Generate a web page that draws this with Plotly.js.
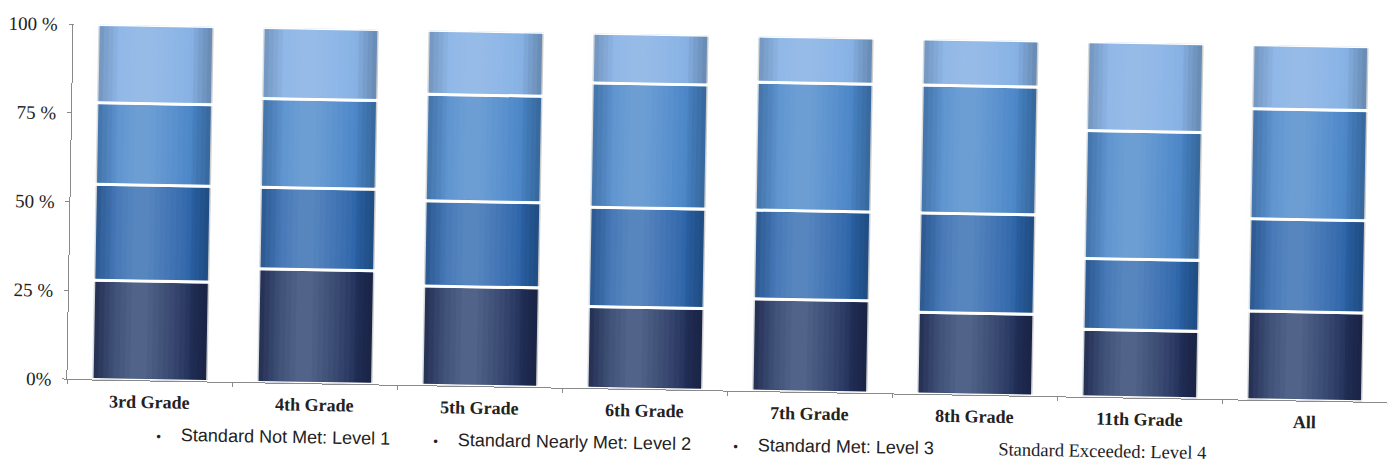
<!DOCTYPE html>
<html>
<head>
<meta charset="utf-8">
<script src="https://cdn.plot.ly/plotly-3.0.1.min.js"></script>
<style>
  html, body { margin: 0; padding: 0; background: #fff; overflow: hidden; }
  #chart { width: 1390px; height: 465px; transform: rotate(1deg); transform-origin: 50% 50%; }
</style>
</head>
<body>
<div id="chart"></div>
<script>
const categories = ["3rd Grade", "4th Grade", "5th Grade", "6th Grade", "7th Grade", "8th Grade", "11th Grade", "All"];
const level1 = [28, 32, 28, 23, 26, 23, 19, 25];
const level2 = [27, 23, 24, 28, 25, 28, 20, 26];
const level3 = [23, 25, 30, 35, 36, 36, 36, 31];
const level4 = [22, 20, 18, 14, 13, 13, 25, 18];
const seriesNames = ["Standard Not Met: Level 1", "Standard Nearly Met: Level 2", "Standard Met: Level 3", "Standard Exceeded: Level 4"];
const yTickVals = [0, 25, 50, 75, 100];
const yTickText = ["0%", "25 %", "50 %", "75 %", "100 %"];

const series = [level1, level2, level3, level4];
const colors = ["#22305a", "#2a62a7", "#4884c6", "#85afe2"];

// cumulative bases for stacking
const bases = [];
let running = categories.map(() => 0);
series.forEach(s => {
  bases.push(running.slice());
  running = running.map((v, i) => v + s[i]);
});

const BAR_W = 0.7;
const traces = [];
series.forEach((s, k) => {
  traces.push({
    type: "bar", x: categories, y: s, base: bases[k], name: seriesNames[k],
    width: BAR_W, offset: -BAR_W / 2,
    marker: { color: colors[k], line: { color: "#ffffff", width: 3 } },
    hoverinfo: "skip", showlegend: false
  });
});

// smooth shading (nested translucent stripes) to imitate the cylinder-like gradient
const stripes = [];
for (let i = 0; i < 9; i++) {
  const w = 0.62 - i * 0.065;
  stripes.push({ c: -0.07, w: w, col: "rgba(215,225,255,0.04)" });
}
for (let i = 0; i < 4; i++) {
  const w = 0.12 - i * 0.028;
  stripes.push({ c: BAR_W / 2 - w / 2, w: w, col: "rgba(0,0,0,0.05)" });
  stripes.push({ c: -BAR_W / 2 + w / 2, w: w, col: "rgba(0,0,0,0.035)" });
}
stripes.forEach(st => {
  series.forEach((s, k) => {
    traces.push({
      type: "bar", x: categories, y: s.map(v => v - 0.9), base: bases[k].map(b => b + 0.45),
      width: st.w, offset: st.c - st.w / 2,
      marker: { color: st.col, line: { width: 0 } },
      hoverinfo: "skip", showlegend: false
    });
  });
});

const plotL = 70, plotR = 0, plotW = 1390 - plotL - plotR;
const px = p => (p - plotL) / plotW;
const legendX = [158, 435, 735, 1000];
const annotations = seriesNames.map((n, k) => {
  const isLast = k === seriesNames.length - 1;
  return {
    xref: "paper", yref: "paper", x: px(legendX[k]), y: -0.152,
    xanchor: "left", yanchor: "middle", showarrow: false,
    text: isLast ? n : '<span style="font-size:13px">•</span>    ' + n,
    font: isLast ? { family: "Liberation Serif, Times New Roman, serif", size: 18.5, color: "#222" }
                 : { family: "Liberation Sans, Arial, sans-serif", size: 18, color: "#222" }
  };
});

const layout = {
  width: 1390, height: 465,
  margin: { l: plotL, r: plotR, t: 35, b: 75 },
  paper_bgcolor: "#ffffff", plot_bgcolor: "#ffffff",
  barmode: "overlay",
  showlegend: false,
  xaxis: {
    type: "category", showgrid: false, zeroline: false,
    showline: true, linecolor: "#8a8a8a", linewidth: 1,
    ticks: "outside", tickson: "boundaries", ticklen: 4, tickcolor: "#8a8a8a",
    ticklabelstandoff: 5,
    tickfont: { family: "Liberation Serif, Times New Roman, serif", size: 18, color: "#222" },
    tickprefix: "<b>", ticksuffix: "</b>"
  },
  yaxis: {
    range: [0, 100], showgrid: false, zeroline: false,
    showline: true, linecolor: "#8a8a8a", linewidth: 1,
    ticks: "outside", ticklen: 4, tickcolor: "#8a8a8a",
    ticklabelstandoff: 7,
    tickvals: yTickVals, ticktext: yTickText,
    tickfont: { family: "Liberation Serif, Times New Roman, serif", size: 19, color: "#222" }
  },
  annotations: annotations
};

Plotly.newPlot("chart", traces, layout, { displayModeBar: false, staticPlot: true });
</script>
</body>
</html>
